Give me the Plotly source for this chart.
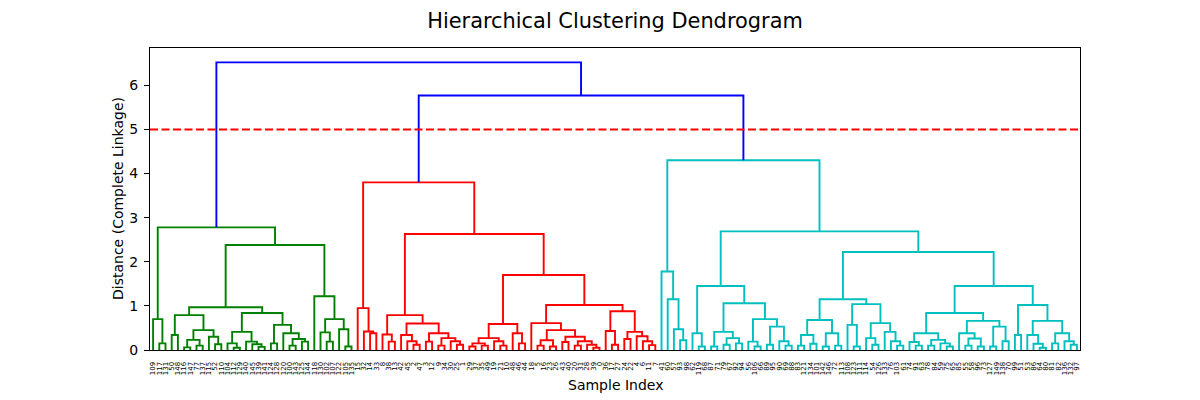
import plotly.graph_objects as go

# ---------------- data ----------------
# leaf labels in display order (left to right)
green_labels = [109, 117, 131, 50, 148, 116, 147, 77, 137, 115, 52, 110, 104, 112, 129, 140,
                145, 139, 141, 124, 128, 120, 100, 143, 125, 144, 118, 130, 102, 107, 122, 105, 135]
red_labels = [15, 32, 14, 33, 8, 38, 13, 42, 45, 2, 47, 3, 12, 9, 34, 30, 25, 1, 29, 37,
              35, 49, 19, 21, 10, 48, 46, 44, 18, 5, 16, 23, 26, 43, 40, 20, 31, 28, 39, 0,
              36, 17, 27, 24, 22, 4, 6, 11, 7]
cyan_labels = [41, 60, 57, 93, 98, 62, 119, 68, 87, 71, 79, 67, 92, 94, 56, 106, 66, 89, 95, 90,
               69, 88, 83, 121, 134, 101, 142, 146, 72, 113, 108, 123, 111, 114, 54, 126, 133, 76,
               103, 61, 74, 91, 63, 78, 84, 59, 75, 65, 85, 55, 58, 96, 73, 127, 149, 138, 70, 99,
               51, 53, 86, 64, 80, 81, 82, 136, 132, 97]

# merges: (first leaf, first leaf of right child, last leaf, distance)
green_links = [
    (1, 2, 2, 0.15), (0, 1, 2, 0.70), (3, 4, 4, 0.34), (5, 6, 6, 0.06), (7, 8, 8, 0.10),
    (5, 7, 8, 0.23), (10, 11, 11, 0.13), (9, 10, 11, 0.30), (5, 9, 11, 0.45), (3, 5, 11, 0.79),
    (13, 14, 14, 0.05), (12, 13, 14, 0.15), (17, 18, 18, 0.07), (16, 17, 18, 0.13),
    (15, 16, 18, 0.19), (12, 15, 18, 0.41), (19, 20, 20, 0.15), (22, 23, 23, 0.10),
    (24, 25, 25, 0.19), (22, 24, 25, 0.25), (21, 22, 25, 0.38), (19, 21, 25, 0.57),
    (12, 19, 25, 0.84), (3, 12, 25, 0.97), (28, 29, 29, 0.19), (27, 28, 29, 0.40),
    (31, 32, 32, 0.08), (30, 31, 32, 0.47), (27, 30, 32, 0.70), (26, 27, 32, 1.22),
    (3, 26, 32, 2.38), (0, 3, 32, 2.78),
]
red_links = [
    (35, 36, 36, 0.38), (34, 35, 36, 0.42), (33, 34, 36, 0.95), (38, 39, 39, 0.19),
    (37, 38, 39, 0.35), (42, 43, 43, 0.12), (41, 42, 43, 0.20), (40, 41, 43, 0.34),
    (44, 45, 45, 0.19), (46, 47, 47, 0.10), (49, 50, 50, 0.12), (48, 49, 50, 0.20),
    (46, 48, 50, 0.27), (44, 46, 50, 0.38), (40, 44, 50, 0.60), (37, 40, 50, 0.79),
    (51, 52, 52, 0.08), (53, 54, 54, 0.10), (51, 53, 54, 0.15), (56, 57, 57, 0.10),
    (55, 56, 57, 0.20), (51, 55, 57, 0.27), (59, 60, 60, 0.15), (58, 59, 60, 0.38),
    (51, 58, 60, 0.59), (62, 63, 63, 0.10), (64, 65, 65, 0.08), (62, 64, 65, 0.22),
    (66, 67, 67, 0.18), (68, 69, 69, 0.10), (71, 72, 72, 0.05), (70, 71, 72, 0.12),
    (68, 70, 72, 0.20), (66, 68, 72, 0.30), (62, 66, 72, 0.45), (61, 62, 72, 0.61),
    (74, 75, 75, 0.12), (73, 74, 75, 0.43), (76, 77, 77, 0.25), (80, 81, 81, 0.11),
    (79, 80, 81, 0.20), (78, 79, 81, 0.31), (76, 78, 81, 0.41), (73, 76, 81, 0.88),
    (61, 73, 81, 1.02), (51, 61, 81, 1.70), (37, 51, 81, 2.63), (33, 37, 81, 3.80),
]
cyan_links = [
    (85, 86, 86, 0.22), (84, 85, 86, 0.47), (83, 84, 86, 1.15), (82, 83, 86, 1.78),
    (88, 89, 89, 0.08), (87, 88, 89, 0.38), (90, 91, 91, 0.08), (92, 93, 93, 0.12),
    (94, 95, 95, 0.15), (92, 94, 95, 0.27), (90, 92, 95, 0.41), (97, 98, 98, 0.08),
    (96, 97, 98, 0.19), (99, 100, 100, 0.12), (102, 103, 103, 0.10), (101, 102, 103, 0.20),
    (99, 101, 103, 0.53), (96, 99, 103, 0.70), (90, 96, 103, 1.06), (87, 90, 103, 1.45),
    (104, 105, 105, 0.10), (106, 107, 107, 0.14), (104, 106, 107, 0.34),
    (108, 109, 109, 0.08), (110, 111, 111, 0.10), (108, 110, 111, 0.38),
    (104, 108, 111, 0.68), (113, 114, 114, 0.08), (112, 113, 114, 0.57),
    (116, 117, 117, 0.12), (115, 116, 117, 0.27), (120, 121, 121, 0.10),
    (119, 120, 121, 0.20), (118, 119, 121, 0.41), (115, 118, 121, 0.61),
    (112, 115, 121, 1.04), (104, 112, 121, 1.15), (123, 124, 124, 0.10),
    (122, 123, 124, 0.18), (125, 126, 126, 0.10), (128, 129, 129, 0.08),
    (127, 128, 129, 0.15), (125, 127, 129, 0.23), (122, 125, 129, 0.38),
    (131, 132, 132, 0.10), (133, 134, 134, 0.08), (131, 133, 134, 0.26),
    (130, 131, 134, 0.38), (135, 136, 136, 0.08), (137, 138, 138, 0.20),
    (135, 137, 138, 0.53), (130, 135, 138, 0.66), (122, 130, 138, 0.84),
    (139, 140, 140, 0.34), (143, 144, 144, 0.05), (142, 143, 144, 0.14),
    (141, 142, 144, 0.34), (145, 146, 146, 0.15), (148, 149, 149, 0.12),
    (147, 148, 149, 0.20), (145, 147, 149, 0.38), (141, 145, 149, 0.66),
    (139, 141, 149, 1.02), (122, 139, 149, 1.45), (104, 122, 149, 2.22),
    (87, 104, 149, 2.69), (82, 87, 149, 4.30),
]
top_links = [(33, 82, 149, 5.77), (0, 33, 149, 6.52)]

cut_height = 5.0
y_tick_values = [0, 1, 2, 3, 4, 5, 6]

# ---------------- build the dendrogram geometry ----------------
labels = [str(v) for v in green_labels + red_labels + cyan_labels]
n_leaves = len(labels)

groups = [
    (green_links, "#008000"),
    (red_links, "#ff0000"),
    (cyan_links, "#00bfbf"),
    (top_links, "#0000ff"),
]

table = {}
for links, _ in groups:
    for lo, sp, hi, h in links:
        table[(lo, hi)] = (sp, h)

memo = {}


def node(lo, hi):
    if lo == hi:
        return (10.0 * lo + 5.0, 0.0)
    key = (lo, hi)
    if key in memo:
        return memo[key]
    sp, h = table[key]
    xl, _ = node(lo, sp - 1)
    xr, _ = node(sp, hi)
    memo[key] = ((xl + xr) / 2.0, h)
    return memo[key]


fig = go.Figure()
for links, color in groups:
    xs, ys = [], []
    for lo, sp, hi, h in links:
        xl, hl = node(lo, sp - 1)
        xr, hr = node(sp, hi)
        xs += [xl, xl, xr, xr, None]
        ys += [hl, h, h, hr, None]
    fig.add_trace(go.Scatter(x=xs, y=ys, mode="lines",
                             line=dict(color=color, width=1.9),
                             hoverinfo="skip", showlegend=False))

max_h = max(h for links, _ in groups for *_, h in links)
x_max = 10.0 * n_leaves

fig.add_trace(go.Scatter(x=[0, x_max], y=[cut_height, cut_height], mode="lines",
                         line=dict(color="#ff0000", width=1.9, dash="8px,3.5px"),
                         hoverinfo="skip", showlegend=False))

font_family = "DejaVu Sans, Liberation Sans, sans-serif"

# the page adds an 8px body margin, so the figure is 8px smaller and shifted
fig.update_layout(
    width=1192, height=392,
    margin=dict(l=142, r=120, t=40, b=50),
    paper_bgcolor="white", plot_bgcolor="white",
    font=dict(family=font_family, color="black", size=14),
    title=dict(text="Hierarchical Clustering Dendrogram", x=607 / 1192, xanchor="center",
               y=1 - 12.5 / 392, yanchor="middle", font=dict(size=20.9, family=font_family)),
)
fig.update_xaxes(
    range=[0, x_max], showgrid=False, zeroline=False,
    showline=True, linecolor="black", linewidth=1, mirror=True,
    tickmode="array", tickvals=[10 * i + 5 for i in range(n_leaves)], ticktext=labels,
    tickangle=-90, tickfont=dict(size=7, family=font_family), ticks="",
    ticklabelstandoff=8,
)
fig.update_yaxes(
    range=[0, max_h * 1.05], showgrid=False, zeroline=False,
    showline=True, linecolor="black", linewidth=1, mirror=True,
    tickmode="array", tickvals=y_tick_values, ticktext=[str(v) for v in y_tick_values],
    ticks="outside", ticklen=5, tickcolor="black", tickfont=dict(size=14),
    ticklabelstandoff=3,
)
fig.add_annotation(text="Sample Index", xref="paper", yref="paper",
                   x=0.5, y=(350 - 385) / 302, xanchor="center", yanchor="middle",
                   showarrow=False, font=dict(size=14))
fig.add_annotation(text="Distance (Complete Linkage)", xref="paper", yref="paper",
                   x=(118 - 150) / 930, y=0.5, xanchor="center", yanchor="middle",
                   textangle=-90, showarrow=False, font=dict(size=14))

fig.write_html("out.html")
